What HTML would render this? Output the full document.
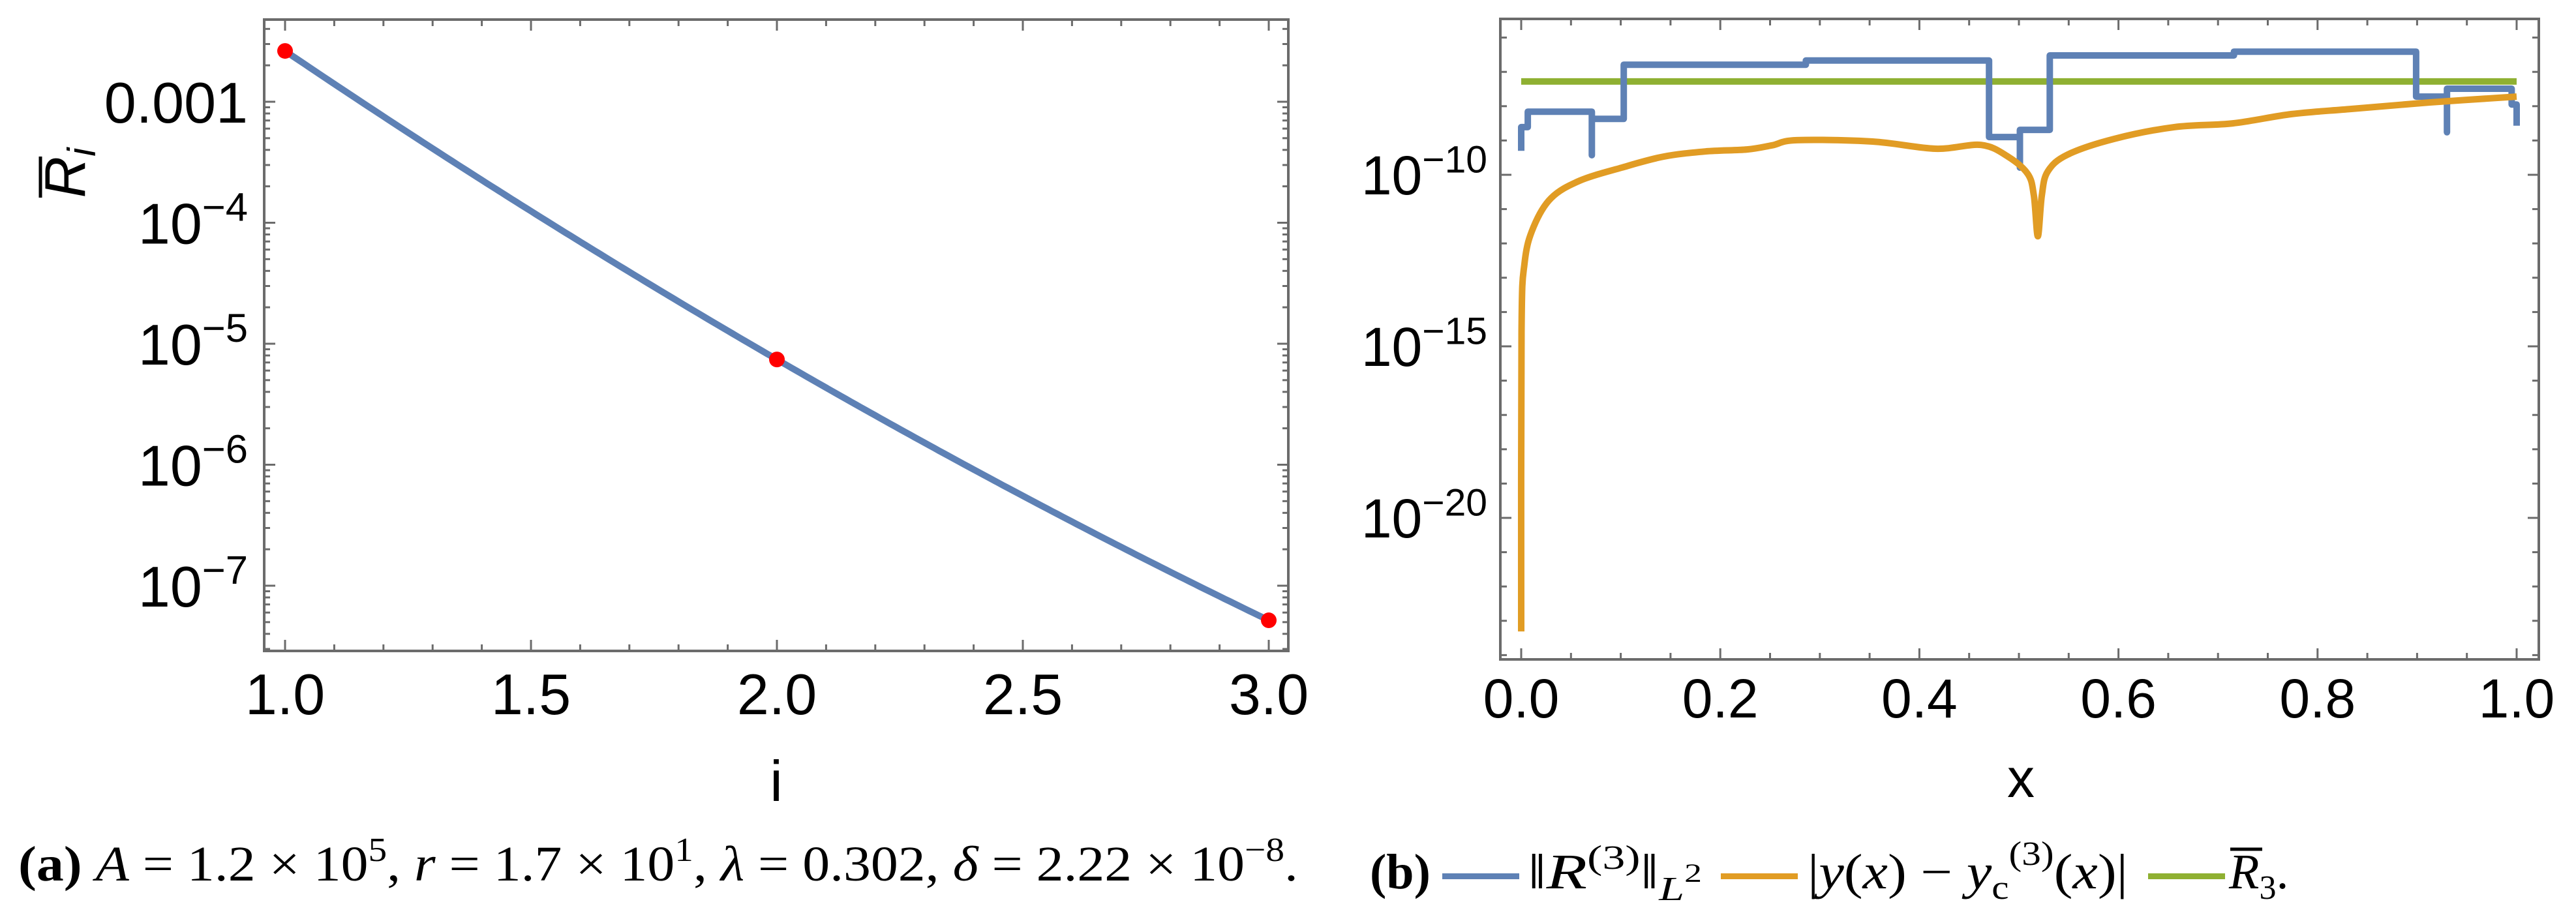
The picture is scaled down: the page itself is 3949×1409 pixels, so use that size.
<!DOCTYPE html>
<html><head><meta charset="utf-8"><style>
html,body{margin:0;padding:0;background:#fff;}
svg{display:block;font-family:"Liberation Sans",sans-serif;}
.cap{font-family:"Liberation Serif",serif;}
</style></head><body>
<svg id="fig" width="3949" height="1409" viewBox="0 0 3949 1409" xmlns="http://www.w3.org/2000/svg">
<g id="left"></g>
<g id="right"></g>
<text class="cap" x="28" y="1350" font-size="76" textLength="1962" lengthAdjust="spacingAndGlyphs"><tspan font-weight="bold">(a)</tspan> <tspan font-style="italic">A</tspan> = 1.2 × 10<tspan dy="-30" font-size="52">5</tspan><tspan dy="30">, </tspan><tspan font-style="italic">r</tspan> = 1.7 × 10<tspan dy="-30" font-size="52">1</tspan><tspan dy="30">, </tspan><tspan font-style="italic">λ</tspan> = 0.302, <tspan font-style="italic">δ</tspan> = 2.22 × 10<tspan dy="-30" font-size="52">−8</tspan><tspan dy="30">.</tspan></text>
<g class="cap" font-size="76">
<text x="2100" y="1362" font-weight="bold">(b)</text>
<rect x="2211" y="1339" width="118" height="9" fill="#5E81B5"/>
<text x="2342" y="1362" textLength="267" lengthAdjust="spacingAndGlyphs">‖<tspan font-style="italic">R</tspan><tspan dy="-30" font-size="52">(3)</tspan><tspan dy="30">‖</tspan><tspan dy="18" font-size="52" font-style="italic">L</tspan><tspan dy="-28" font-size="40">2</tspan></text>
<rect x="2638" y="1339" width="118" height="9" fill="#E19C24"/>
<text x="2771" y="1362" textLength="491" lengthAdjust="spacingAndGlyphs">|<tspan font-style="italic">y</tspan>(<tspan font-style="italic">x</tspan>) − <tspan font-style="italic">y</tspan><tspan dy="16" font-size="52">c</tspan><tspan dy="-52" font-size="52">(3)</tspan><tspan dy="36">(</tspan><tspan font-style="italic">x</tspan>)|</text>
<rect x="3293" y="1339" width="118" height="9" fill="#8FB032"/>
<text x="3417" y="1362"><tspan font-style="italic">R</tspan><tspan dy="16" font-size="52">3</tspan><tspan dy="-16">.</tspan></text>
<line x1="3419" y1="1302" x2="3468" y2="1302" stroke="#000" stroke-width="5"/>
</g>
</svg>
<script>
// ---------- Left panel data ----------
const leftI = [1, 2, 3];
const leftLogR = [-2.58, -5.13, -7.286];
const leftXTicks = [1.0, 1.5, 2.0, 2.5, 3.0];
const leftXTickLabels = ["1.0", "1.5", "2.0", "2.5", "3.0"];
const leftYDecades = [-3, -4, -5, -6, -7];
const leftYTickLabels = ["0.001", "10|-4", "10|-5", "10|-6", "10|-7"];
// ---------- Right panel data ----------
const blueX = [0,0,0.0066,0.0066,0.071,0.071,0.071,0.103,0.103,0.286,0.286,0.470,0.470,0.501,0.501,0.501,0.531,0.531,0.716,0.716,0.899,0.899,0.930,0.930,0.930,0.995,0.995,1.0,1.0];
const blueLog = [-9.30,-8.61,-8.61,-8.16,-8.16,-9.43,-8.37,-8.37,-6.79,-6.79,-6.67,-6.67,-8.90,-8.90,-9.79,-8.69,-8.69,-6.52,-6.52,-6.41,-6.41,-7.72,-7.72,-8.76,-7.49,-7.49,-7.95,-7.95,-8.57];
const orangeX = [0,0.0003,0.0035,0.0124,0.03,0.059,0.101,0.143,0.185,0.227,0.252,0.277,0.353,0.416,0.462,0.489,0.509,0.515,0.519,0.523,0.529,0.549,0.596,0.656,0.715,0.774,0.834,0.913,1.0];
const orangeLog = [-23.31,-14.6,-12.55,-11.52,-10.68,-10.17,-9.79,-9.47,-9.32,-9.26,-9.14,-8.99,-9.03,-9.24,-9.13,-9.47,-9.98,-10.6,-11.79,-10.6,-9.90,-9.41,-8.95,-8.61,-8.50,-8.23,-8.08,-7.89,-7.72];
const greenX = [0, 1];
const greenLog = [-7.28, -7.28];
const rightXTicks = [0, 0.2, 0.4, 0.6, 0.8, 1.0];
const rightXTickLabels = ["0.0", "0.2", "0.4", "0.6", "0.8", "1.0"];
const rightYLabelDecades = [-10, -15, -20];
const rightYTickLabels = ["10|-10", "10|-15", "10|-20"];

const NS = "http://www.w3.org/2000/svg";
function mk(parent, tag, attrs) {
  const e = document.createElementNS(NS, tag);
  for (const k in attrs) e.setAttribute(k, attrs[k]);
  parent.appendChild(e);
  return e;
}
const AX = "#6b6b6b";

// ---------- Left panel ----------
const L = document.getElementById('left');
const lx0 = 405, lx1 = 1975, ly0 = 30, ly1 = 998;
const lxScale = v => 437 + (v - 1) * 754;
const lyScale = lg => 156 + (-3 - lg) * 185.5;
const lf = mk(L, 'rect', {x: lx0, y: ly0, width: lx1 - lx0, height: ly1 - ly0, fill: 'none', stroke: AX, 'stroke-width': 4});


for (let k = 0; k <= 20; k++) {
  const v = 1 + k * 0.1;
  const len = (k % 5 === 0) ? 17 : 10;
  const x = lxScale(v);
  mk(L, 'line', {x1: x, y1: ly1, x2: x, y2: ly1 - len, stroke: AX, 'stroke-width': 3});
  mk(L, 'line', {x1: x, y1: ly0, x2: x, y2: ly0 + len, stroke: AX, 'stroke-width': 3});
}
for (let d = -2; d >= -8; d--) {
  for (let m = 1; m <= 9; m++) {
    const lg = d + Math.log10(m);
    const y = lyScale(lg);
    if (y < ly0 || y > ly1) continue;
    const len = m === 1 ? 17 : 9;
    mk(L, 'line', {x1: lx0, y1: y, x2: lx0 + len, y2: y, stroke: AX, 'stroke-width': 3});
    mk(L, 'line', {x1: lx1, y1: y, x2: lx1 - len, y2: y, stroke: AX, 'stroke-width': 3});
  }
}
leftXTicks.forEach((v, i) => {
  const t = mk(L, 'text', {x: lxScale(v), y: 1095, 'font-size': 88, 'text-anchor': 'middle'});
  t.textContent = leftXTickLabels[i];
  
  
});
function powLabel(parent, x, y, lab, fs) {
  const t = mk(parent, 'text', {x: x, y: y, 'font-size': fs, 'text-anchor': 'end'});
  const parts = lab.split('|');
  if (parts.length === 1) { t.textContent = lab; return t; }
  const a = mk(t, 'tspan', {}); a.textContent = parts[0];
  const b = mk(t, 'tspan', {dy: -fs * 0.4, 'font-size': fs * 0.7}); b.textContent = parts[1].replace('-', '−');
  return t;
}
leftYDecades.forEach((d, i) => {
  const t = powLabel(L, 380, lyScale(d) + 32, leftYTickLabels[i], 88);
  
  
});
const xl = mk(L, 'text', {x: 1190, y: 1228, 'font-size': 88, 'text-anchor': 'middle'});
xl.textContent = 'i';


const yt = mk(L, 'text', {transform: 'translate(130,265) rotate(-90)', 'font-size': 88, 'text-anchor': 'middle'});


const ytR = mk(yt, 'tspan', {'font-style': 'italic'}); ytR.textContent = 'R';
const ytI = mk(yt, 'tspan', {'font-style': 'italic', 'font-size': 60, dy: 16}); ytI.textContent = 'i';
const ytBar = mk(L, 'line', {x1: 62, y1: 303, x2: 62, y2: 240, stroke: '#000', 'stroke-width': 5});


// curve via Lagrange interpolation of log values
function lagr(v) {
  let s = 0;
  for (let i = 0; i < leftI.length; i++) {
    let p = leftLogR[i];
    for (let j = 0; j < leftI.length; j++) if (j !== i) p *= (v - leftI[j]) / (leftI[i] - leftI[j]);
    s += p;
  }
  return s;
}
let dstr = '';
const n = 200;
for (let k = 0; k <= n; k++) {
  const v = leftI[0] + (leftI[leftI.length - 1] - leftI[0]) * k / n;
  dstr += (k ? 'L' : 'M') + lxScale(v).toFixed(1) + ',' + lyScale(lagr(v)).toFixed(1);
}
const lc = mk(L, 'path', {d: dstr, fill: 'none', stroke: '#5E81B5', 'stroke-width': 10});


leftI.forEach((v, i) => {
  const c = mk(L, 'ellipse', {cx: lxScale(v), cy: lyScale(leftLogR[i]), rx: 12, ry: 12, fill: '#FF0000'});
  
  
});

// ---------- Right panel ----------
const R = document.getElementById('right');
const rx0 = 2300, rx1 = 3892, ry0 = 29, ry1 = 1011;
const rxScale = v => 2332 + v * 1526;
const ryScale = lg => 268 + (-10 - lg) * 52.6;
const rf = mk(R, 'rect', {x: rx0, y: ry0, width: rx1 - rx0, height: ry1 - ry0, fill: 'none', stroke: AX, 'stroke-width': 4});


for (let k = 0; k <= 20; k++) {
  const x = rxScale(k * 0.05);
  const len = (k % 4 === 0) ? 17 : 10;
  mk(R, 'line', {x1: x, y1: ry1, x2: x, y2: ry1 - len, stroke: AX, 'stroke-width': 3});
  mk(R, 'line', {x1: x, y1: ry0, x2: x, y2: ry0 + len, stroke: AX, 'stroke-width': 3});
}
for (let d = -5; d >= -24; d--) {
  const y = ryScale(d);
  if (y < ry0 || y > ry1) continue;
  const len = (d % 5 === 0) ? 17 : 10;
  mk(R, 'line', {x1: rx0, y1: y, x2: rx0 + len, y2: y, stroke: AX, 'stroke-width': 3});
  mk(R, 'line', {x1: rx1, y1: y, x2: rx1 - len, y2: y, stroke: AX, 'stroke-width': 3});
}
rightXTicks.forEach((v, i) => {
  const t = mk(R, 'text', {x: rxScale(v), y: 1100, 'font-size': 84, 'text-anchor': 'middle'});
  t.textContent = rightXTickLabels[i];
  
  
});
rightYLabelDecades.forEach((d, i) => {
  const t = powLabel(R, 2280, ryScale(d) + 30, rightYTickLabels[i], 84);
  
  
});
const xr = mk(R, 'text', {x: 3098, y: 1222, 'font-size': 84, 'text-anchor': 'middle'});
xr.textContent = 'x';


function series(xs, ls, color, w, smooth) {
  const P = xs.map((v, i) => [rxScale(v), ryScale(ls[i])]);
  let d = 'M' + P[0][0].toFixed(1) + ',' + P[0][1].toFixed(1);
  for (let i = 1; i < P.length; i++) {
    if (!smooth) { d += 'L' + P[i][0].toFixed(1) + ',' + P[i][1].toFixed(1); continue; }
    const p0 = P[Math.max(0, i - 2)], p1 = P[i - 1], p2 = P[i], p3 = P[Math.min(P.length - 1, i + 1)];
    const c1x = p1[0] + (p2[0] - p0[0]) / 6, c1y = p1[1] + (p2[1] - p0[1]) / 6;
    const c2x = p2[0] - (p3[0] - p1[0]) / 6, c2y = p2[1] - (p3[1] - p1[1]) / 6;
    d += 'C' + c1x.toFixed(1) + ',' + c1y.toFixed(1) + ' ' + c2x.toFixed(1) + ',' + c2y.toFixed(1) + ' ' + p2[0].toFixed(1) + ',' + p2[1].toFixed(1);
  }
  return mk(R, 'path', {d: d, fill: 'none', stroke: color, 'stroke-width': w, 'stroke-linejoin': 'round'});
}
const gp = series(greenX, greenLog, '#8FB032', 10, false);


const bp = series(blueX, blueLog, '#5E81B5', 10, false);


const op = series(orangeX, orangeLog, '#E19C24', 10, true);


</script>
</body></html>
